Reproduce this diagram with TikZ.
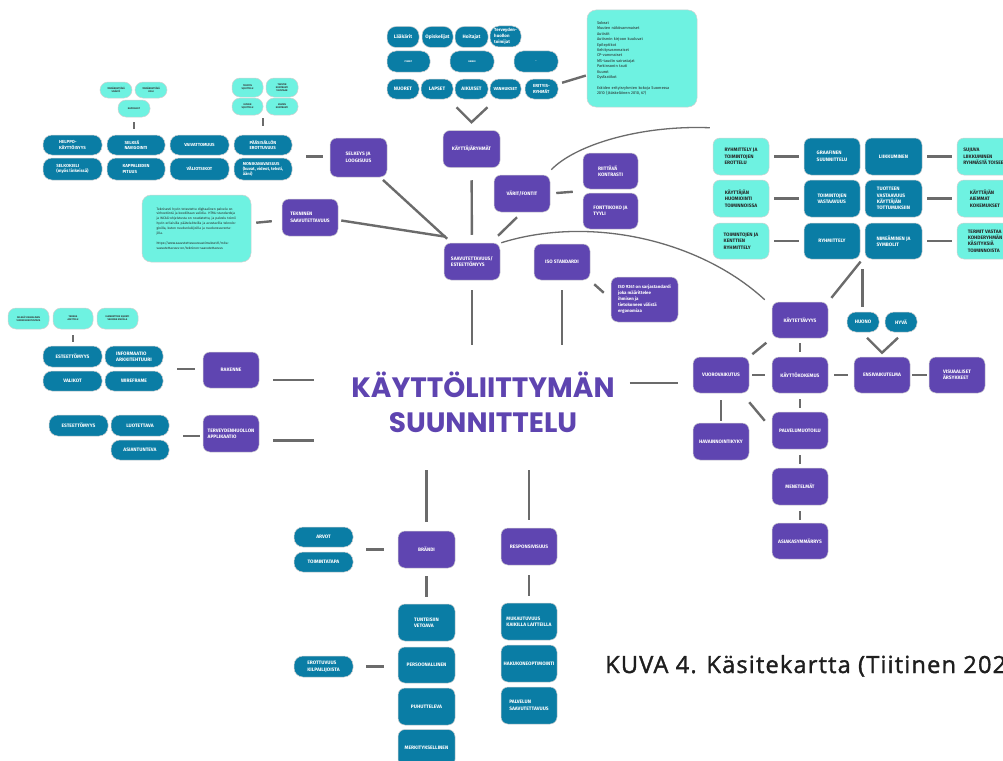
\documentclass[tikz,border=0pt]{standalone}
\usepackage{fontspec}
\setmainfont{Fira Sans}
\newfontfamily\titlefont{Poppins}
\newfontfamily\capfont{Open Sans}[LetterSpace=5, FakeBold=1.5]
\usetikzlibrary{calc}
\definecolor{purp}{RGB}{95,69,177}
\definecolor{blu}{RGB}{10,125,165}
\definecolor{aqua}{RGB}{110,242,225}
\definecolor{lnc}{RGB}{107,107,107}
\definecolor{titc}{RGB}{94,68,176}
\definecolor{capc}{RGB}{30,30,30}
\newcommand\mylbl{\fontsize{4.9}{6.4}\selectfont\bfseries}
\newcommand\mysml{\fontsize{4.4}{5.8}\selectfont\bfseries}
\newcommand\mytiny{\fontsize{2.4}{3}\selectfont\bfseries}
\begin{document}
\begin{tikzpicture}[x=1pt,y=-1pt,
  conn/.style={draw=lnc, line width=2.4},
  base/.style={rounded corners=7, inner sep=1, align=left, font=\mylbl, draw=white!82!black, line width=0.5},
  pur/.style={base, fill=purp, text=white, minimum width=56, minimum height=37},
  blu/.style={base, fill=blu, text=white, rounded corners=9},
  bsq/.style={base, fill=blu, text=white, minimum width=56, minimum height=37},
  aqu/.style={base, fill=aqua, text=black!85, rounded corners=9},
  asq/.style={base, fill=aqua, text=black!85, minimum width=56, minimum height=37},
  chip/.style={base, fill=aqua, text=black!80, font=\mytiny, rounded corners=8, align=center},
]
\useasboundingbox (0,0) rectangle (1003,760);
\fill[white] (0,0) rectangle (1003,760);

% ---------- top: user groups ----------
\node[blu, minimum width=32, minimum height=21] (l1) at (403,37) {Lääkärit};
\node[blu, minimum width=31, minimum height=21] (l2) at (437.5,37) {Opiskelijat};
\node[blu, minimum width=33, minimum height=21] (l3) at (471.5,37) {Hoitajat};
\node[blu, minimum width=31, minimum height=21, font=\mysml] (l4) at (505.5,36.5) {Terveyden-\\huollon\\toimijat};
\node[blu, minimum width=43, minimum height=21, font=\mytiny] (m1) at (408.5,61.5) {PIENET};
\node[blu, minimum width=44, minimum height=21, font=\mytiny] (m2) at (472,61.5) {KAIKKI};
\node[blu, minimum width=44, minimum height=21, font=\mytiny] (m3) at (536,61.5) {--};
\node[blu, minimum width=32, minimum height=20] (n1) at (403,89) {NUORET};
\node[blu, minimum width=32, minimum height=20] (n2) at (437,89) {LAPSET};
\node[blu, minimum width=33, minimum height=20] (n3) at (471.5,89) {AIKUISET};
\node[blu, minimum width=31, minimum height=20, font=\mysml] (n4) at (505.5,89) {VANHUKSET};
\node[blu, minimum width=33, minimum height=20, font=\mysml] (n5) at (541.5,89) {ERITYIS-\\RYHMÄT};

\node[base, fill=aqua, text=black!85, rounded corners=9, minimum width=110, minimum height=97, text width=90, inner sep=5, font=\fontsize{3.9}{5.4}\selectfont] (erit) at (642,58.5)
{Sokeat\\Muuten näkövammaiset\\Autistit\\Autismin kirjoon kuuluvat\\Epileptikot\\Kehitysvammaiset\\CP-vammaiset\\MS-taudin sairastajat\\Parkinsonin tauti\\Kuurot\\Dysfaatikot\\[5.4pt]Eräiden erityisryhmien kokoja Suomessa\\2010 (Jääskeläinen 2010, 67)};
\draw[conn, shorten <=4, shorten >=1] (n5) -- (erit);

\node[pur, minimum width=57] (kr) at (471.5,149) {KÄYTTÄJÄRYHMÄT};
\coordinate (vt) at ([yshift=8]kr.north);
\draw[conn] ([shift={(-15,-15)}]vt) -- (vt) -- ([shift={(16,-15)}]vt);

% ---------- accessibility hub ----------
\node[pur] (saav) at (472,261.5) {SAAVUTETTAVUUS/\\ESTEETTÖMYYS};
\draw[conn, shorten <=12.5, shorten >=8] (kr) -- (saav);

\node[pur] (vf) at (522,193.5) {VÄRIT/FONTIT};
\node[pur, minimum width=55, minimum height=36] (rk) at (610.5,171) {RIITTÄVÄ\\KONTRASTI};
\node[pur, minimum width=55, minimum height=36] (ff) at (610.5,211) {FONTTIKOKO JA\\TYYLI};
\coordinate (rkff) at ($(rk.south west)!0.5!(ff.north west)$);
\draw[conn, shorten <=6, shorten >=10] (vf.east) -- (rkff);
\draw[conn] ([shift={(-5,5)}]vf.south) -- ([shift={(26,-7)}]saav.north);

\node[pur, minimum height=36] (iso) at (562,262) {ISO STANDARDI};
\node[pur, minimum width=67, minimum height=45, font=\fontsize{4.4}{6}\selectfont\bfseries] (i9) at (644.5,299.5) {ISO 9241 on sarjastandardi\\ joka määrittelee\\ ihmisen ja\\ tietokoneen välistä\\ ergonomiaa};
\draw[conn] ([shift={(4,4)}]iso.south east) -- ([shift={(-7,16)}]i9.north west);

\node[pur, minimum width=57, minimum height=39] (sl) at (358.5,157.5) {SELKEYS JA\\LOOGISUUS};
\draw[conn, shorten <=4, shorten >=6] (sl) -- (saav);

\node[pur] (tn) at (310,217.5) {TEKNINEN\\SAAVUTETTAVUUS};
\draw[conn] ([shift={(3,3)}]tn.east) -- ([shift={(2,-6)}]saav.north west);

\node[base, fill=aqua, text=black!85, rounded corners=9, minimum width=109, minimum height=67, text width=80, inner sep=4, font=\fontsize{3.3}{4.9}\selectfont] (tb) at (196.5,228.5)
{Teknisesti hyvin toteutettu digitaalinen palvelu on virheetöntä ja koodiltaan validia. HTML-standardeja ja WCAG-ohjeistusta on noudatettu, ja palvelu toimii hyvin erilaisilla päätelaitteilla ja avustavilla teknologioilla, kuten ruudunlukijoilla ja ruudunsuurentajilla.\\[4.9pt]
https://www.saavutettavuusvaatimukset.fi/mita-\\saavutettavuus-on/tekninen-saavutettavuus};
\draw[conn, shorten <=5, shorten >=10] (tb) -- (tn);

% ---------- left top cluster ----------
\node[chip, minimum width=32, minimum height=16] (c1) at (116,90) {YMMÄRRETTÄVÄ\\SISÄLTÖ};
\node[chip, minimum width=32, minimum height=16] (c2) at (151,90) {YMMÄRRETTÄVÄ\\KIELI};
\node[chip, minimum width=32, minimum height=17] (c3) at (134,108.5) {KAPPALEET};
\node[chip, minimum width=31, minimum height=19] (d1) at (247.5,87.5) {TEKSTIN\\SIJOITTELU};
\node[chip, minimum width=32, minimum height=19] (d2) at (282,87.5) {TEKSTIN\\KONTRASTI\\TAUSTAAN};
\node[chip, minimum width=31, minimum height=17] (d3) at (247.5,106.5) {KUVIEN\\SIJOITTELU};
\node[chip, minimum width=32, minimum height=17] (d4) at (282,106.5) {KUVIEN\\KONTRASTI};

\node[blu, minimum width=59, minimum height=20, font=\mysml] (h1) at (72.5,145) {HELPPO-\\KÄYTTÖISYYS};
\node[blu, minimum width=58, minimum height=20, font=\mysml] (h2) at (136,145) {SELKEÄ\\NAVIGOINTI};
\node[blu, minimum width=59, minimum height=20, font=\mysml] (h3) at (199.5,145) {VAIVATTOMUUS};
\node[blu, minimum width=58, minimum height=20, font=\mysml] (h4) at (263,145) {PÄÄSISÄLLÖN\\EROTTUVUUS};
\node[blu, minimum width=59, minimum height=22, font=\mysml] (h5) at (72.5,169) {SELKOKIELI\\(myös linkeissä)};
\node[blu, minimum width=58, minimum height=22, font=\mysml] (h6) at (136,169) {KAPPALEIDEN\\PITUUS};
\node[blu, minimum width=59, minimum height=22, font=\mysml] (h7) at (199.5,169) {VÄLIOTSIKOT};
\node[blu, minimum width=58, minimum height=22, font=\fontsize{4.2}{5}\selectfont\bfseries] (h8) at (263,169) {MONIKANAVAISUUS\\(kuvat, videot, teksti,\\ääni)};
\draw[conn, line width=1.6, shorten <=5, shorten >=6] (c3.south) -- (c3.south |- h2.north);
\draw[conn, line width=1.6, shorten <=3, shorten >=9] (d3.south east) -- (d3.south east |- h4.north);
\coordinate (hgrp) at ($(h4.south east)!0.5!(h8.north east)$);
\draw[conn, shorten <=14, shorten >=7] (hgrp) -- (hgrp -| sl.west);

% ---------- left middle ----------
\node[chip, minimum width=41, minimum height=21] (e1) at (28.5,318.5) {SELKEÄ VISUAALINEN\\VUOROVAIKUTUSTAPA};
\node[chip, minimum width=40, minimum height=21] (e2) at (73,318.5) {TARKKA\\ASETTELU};
\node[chip, minimum width=41, minimum height=21] (e3) at (117.5,318.5) {ELEMENTTIEN SIJAINTI\\VAKIONA SIVUILLA};
\node[blu, minimum width=59, minimum height=21] (r1) at (72.5,356.5) {ESTEETTÖMYYS};
\node[blu, minimum width=58, minimum height=21] (r2) at (134,356.5) {INFORMAATIO\\ARKKITEHTUURI};
\node[blu, minimum width=59, minimum height=20] (r3) at (72.5,381) {VALIKOT};
\node[blu, minimum width=58, minimum height=20] (r4) at (134,381) {WIREFRAME};
\draw[conn, line width=1.6, shorten <=6, shorten >=4] (e2.south) -- (e2.south |- r1.north);
\node[pur, minimum height=36] (rak) at (231,370) {RAKENNE};
\coordinate (rgrp) at ($(r2.south east)!0.5!(r4.north east)$);
\draw[conn, shorten <=14, shorten >=8] (rgrp) -- (rgrp -| rak.west);

\node[blu, minimum width=59, minimum height=21] (t1) at (78.5,425.5) {ESTEETTÖMYYS};
\node[blu, minimum width=58, minimum height=21] (t2) at (140,425.5) {LUOTETTAVA};
\node[blu, minimum width=58, minimum height=20] (t3) at (140,450) {ASIANTUNTEVA};
\node[pur] (ter) at (231,433.5) {TERVEYDENHUOLLON\\APPLIKAATIO};
\draw[conn, shorten <=14, shorten >=3] (t2.south east) -- (t2.south east -| ter.west);

% ---------- title ----------
\node[font=\titlefont\bfseries\fontsize{28}{35}\selectfont, text=titc, align=center, minimum height=80, inner sep=0] (title) at (483,402) {KÄYTTÖLIITTYMÄN\\SUUNNITTELU};
\coordinate (rakl) at ([yshift=-10]rak.east);
\coordinate (terl) at ([yshift=-7]ter.east);
\draw[conn, shorten <=14, shorten >=37] (rakl) -- (rakl -| title.west);
\draw[conn, shorten <=14, shorten >=37] (terl) -- (terl -| title.west);
\draw[conn, shorten <=10, shorten >=17] (saav.south) -- (saav.south |- title.north);
\draw[conn, shorten <=10, shorten >=17] (iso.south) -- (iso.south |- title.north);

% ---------- bottom ----------
\node[pur, minimum width=57] (br) at (426.5,549.5) {BRÄNDI};
\node[pur] (resp) at (529,546.5) {RESPONSIVISUUS};
\draw[conn, shorten <=9, shorten >=28] (br.north) -- (br.north |- title.south);
\draw[conn, shorten <=8, shorten >=28] (resp.north) -- (resp.north |- title.south);

\node[blu, minimum width=59, minimum height=20] (ar) at (323.5,537) {ARVOT};
\node[blu, minimum width=59, minimum height=20] (tt) at (323.5,562) {TOIMINTATAPA};
\coordinate (agrp) at ($(ar.south east)!0.5!(tt.north east)$);
\draw[conn, shorten <=13, shorten >=14] (agrp) -- (agrp -| br.west);

\node[bsq, minimum width=57] (tv) at (426.5,622.5) {TUNTEISIIN\\VETOAVA};
\node[bsq, minimum width=57, minimum height=36] (pe) at (426.5,665) {PERSOONALLINEN};
\node[bsq, minimum width=57] (pu) at (426.5,706.5) {PUHUTTELEVA};
\node[bsq, minimum width=57] (me) at (426.5,748) {MERKITYKSELLINEN};
\draw[conn, shorten <=8, shorten >=7] (br) -- (tv);
\node[blu, minimum width=59, minimum height=21] (eko) at (323.5,666.5) {EROTTUVUUS\\KILPAILIJOISTA};
\draw[conn, shorten <=13, shorten >=14] (eko) -- (eko -| pe.west);

\node[bsq] (mk) at (529,621.5) {MUKAUTUVUUS\\KAIKILLA LAITTEILLA};
\node[bsq] (hk) at (529,663.5) {HAKUKONEOPTIMOINTI};
\node[bsq] (ps) at (529,705.5) {PALVELUN\\SAAVUTETTAVUUS};
\draw[conn, shorten <=10, shorten >=7] (resp) -- (mk);

\node[font=\capfont\fontsize{23.6}{27}\selectfont, text=capc, anchor=base west, inner sep=0] (cap) at (605,673) {KUVA 4. Käsitekartta (Tiitinen 202};

% ---------- right cluster ----------
\node[asq] (ra1) at (741,156.5) {RYHMITTELY JA\\TOIMINTOJEN\\EROTTELU};
\node[asq] (ra2) at (741,198.5) {KÄYTTÄJÄN\\HUOMIOINTI\\TOIMINNOISSA};
\node[asq, minimum height=36] (ra3) at (741,241) {TOIMINTOJEN JA\\KENTTIEN\\RYHMITTELY};
\node[bsq] (gs) at (832,156.5) {GRAAFINEN\\SUUNNITTELU};
\node[bsq] (tv2) at (832,198.5) {TOIMINTOJEN\\VASTAAVUUS};
\node[bsq, minimum height=36] (ry) at (832,241) {RYHMITTELY};
\node[bsq, minimum width=57] (lk) at (893.5,156.5) {LIIKKUMINEN};
\node[bsq, minimum width=57] (tu) at (893.5,198.5) {TUOTTEEN\\VASTAAVUUS\\KÄYTTÄJÄN\\TOTTUMUKSIIN};
\node[bsq, minimum width=57, minimum height=36] (ni) at (893.5,241) {NIMEÄMINEN JA\\SYMBOLIT};
\node[asq] (rb1) at (985,156.5) {SUJUVA\\LIIKKUMINEN\\RYHMÄSTÄ TOISEEN};
\node[asq] (rb2) at (985,198.5) {KÄYTTÄJÄN\\AIEMMAT\\KOKEMUKSET};
\node[asq, minimum height=36] (rb3) at (985,241) {TERMIT VASTAA\\KOHDERYHMÄN\\KÄSITYKSIÄ\\TOIMINNOISTA};
\foreach \a/\b in {ra1/gs, ra2/tv2, ra3/ry, lk/rb1, tu/rb2, ni/rb3}
  \draw[conn, shorten <=5, shorten >=5] (\a) -- (\b);

% ---------- usability / experience ----------
\node[pur, minimum height=36] (kt) at (800,320) {KÄYTETTÄVYYS};
\node[blu, minimum width=32, minimum height=20] (hu) at (863,322) {HUONO};
\node[blu, minimum width=32, minimum height=20] (hy) at (901,322) {HYVÄ};
\node[pur, minimum height=36] (vv) at (721,375) {VUOROVAIKUTUS};
\node[pur, minimum height=36] (kk) at (800,375) {KÄYTTÖKOKEMUS};
\node[pur, minimum height=36] (ens) at (882,375) {ENSIVAIKUTELMA};
\node[pur, minimum height=36] (vis) at (957,375) {VISUAALISET\\ÄRSYKKEET};
\node[pur] (ha) at (721,441.5) {HAVAINNOINTIKYKY};
\node[pur] (pm) at (800,430.5) {PALVELUMUOTOILU};
\node[pur] (me2) at (800,486.5) {MENETELMÄT};
\node[pur, minimum height=36] (as) at (800,541) {ASIAKASYMMÄRRYS};

\coordinate (rn) at ($(ry.south east)!0.5!(ni.south west)$);
\draw[conn, shorten <=3, shorten >=5] (rn) -- (kt.north east);
\draw[conn, shorten <=10, shorten >=5] (rn) -- (rn |- hu.north);
\coordinate (ev) at ([yshift=4]ens.north);
\draw[conn] ([shift={(-15,-15)}]ev) -- (ev) -- ([shift={(16,-15)}]ev);

\draw[conn, shorten <=3, shorten >=7] (vv) -- (kk);
\draw[conn, shorten <=6, shorten >=6] (kk) -- (ens);
\draw[conn, shorten <=2, shorten >=2] (ens) -- (vis);
\draw[conn, shorten <=5, shorten >=5] (kt) -- (kk);
\draw[conn, shorten <=7, shorten >=4] (kt.south west) -- (vv.north east);
\draw[conn, shorten <=7, shorten >=2] (vv) -- (ha);
\draw[conn, shorten <=6, shorten >=4] (kk) -- (pm);
\draw[conn] ([yshift=-9]vv.south east) -- ([xshift=-7,yshift=-9]pm.north west);
\draw[conn, shorten <=6, shorten >=4] (pm) -- (me2);
\draw[conn, shorten <=6, shorten >=3] (me2) -- (as);
\coordinate (vvl) at ([yshift=-8]vv.west);
\draw[conn, shorten <=15, shorten >=15] (vvl -| title.east) -- (vvl);

% ---------- curves ----------
\draw[draw=lnc, line width=1.3] ([shift={(1,0)}]saav.north east) .. controls (590,215) and (700,240) .. ([shift={(-7,-2)}]kt.north west);
\draw[draw=lnc, line width=1.3] ([shift={(1,-5)}]vf.north east) .. controls (575,145) and (640,125) .. ([shift={(-3,-10)}]ra1.north west);
\end{tikzpicture}
\end{document}
